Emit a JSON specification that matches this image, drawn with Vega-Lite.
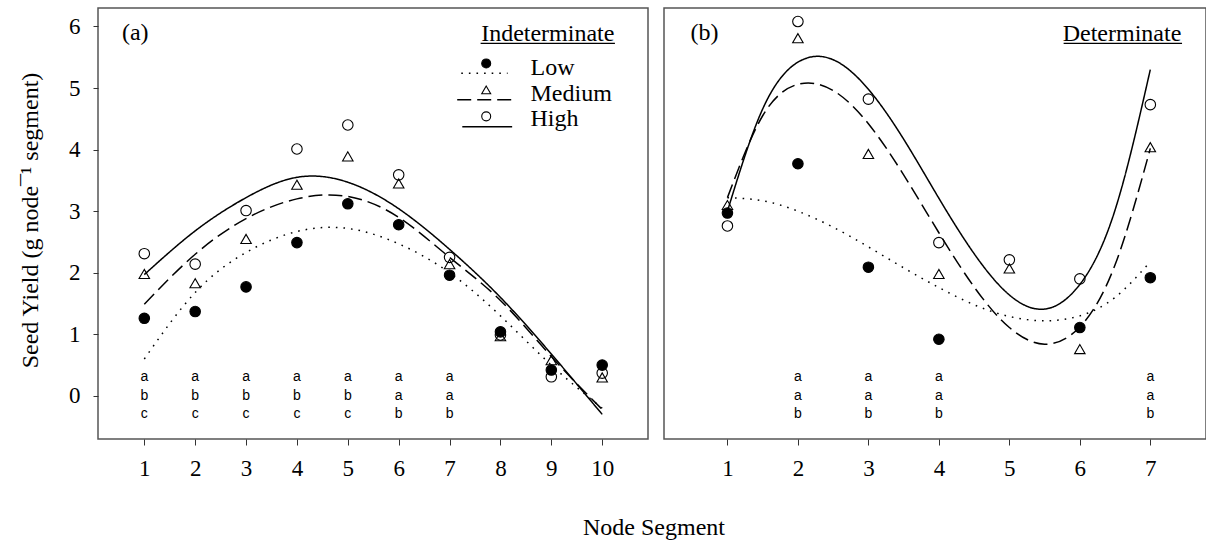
{
  "$schema": "https://vega.github.io/schema/vega-lite/v6.json",
  "background": "white",
  "padding": {"left": 17, "top": 7, "right": 0, "bottom": 4},
  "bounds": "flush",
  "spacing": 16,
  "config": {
    "view": {"stroke": "#555", "strokeWidth": 1.5},
    "font": "Liberation Serif",
    "axis": {"domain": false, "grid": false, "tickColor": "#333", "tickWidth": 1, "labelFont": "Liberation Serif", "labelFontSize": 23, "labelColor": "black", "labelFlush": false, "labelOverlap": false, "titleFont": "Liberation Serif", "titleFontSize": 24, "titleFontWeight": "normal", "titleColor": "black"}
  },
  "datasets": {
    "pts": [
      {"panel": "ind", "seg": 1, "level": "Low", "val": 1.26}, {"panel": "ind", "seg": 1, "level": "Medium", "val": 1.98}, {"panel": "ind", "seg": 1, "level": "High", "val": 2.31},
      {"panel": "ind", "seg": 2, "level": "Low", "val": 1.37}, {"panel": "ind", "seg": 2, "level": "Medium", "val": 1.83}, {"panel": "ind", "seg": 2, "level": "High", "val": 2.14},
      {"panel": "ind", "seg": 3, "level": "Low", "val": 1.77}, {"panel": "ind", "seg": 3, "level": "Medium", "val": 2.55}, {"panel": "ind", "seg": 3, "level": "High", "val": 3.01},
      {"panel": "ind", "seg": 4, "level": "Low", "val": 2.49}, {"panel": "ind", "seg": 4, "level": "Medium", "val": 3.43}, {"panel": "ind", "seg": 4, "level": "High", "val": 4.01},
      {"panel": "ind", "seg": 5, "level": "Low", "val": 3.12}, {"panel": "ind", "seg": 5, "level": "Medium", "val": 3.89}, {"panel": "ind", "seg": 5, "level": "High", "val": 4.40},
      {"panel": "ind", "seg": 6, "level": "Low", "val": 2.78}, {"panel": "ind", "seg": 6, "level": "Medium", "val": 3.45}, {"panel": "ind", "seg": 6, "level": "High", "val": 3.59},
      {"panel": "ind", "seg": 7, "level": "Low", "val": 1.96}, {"panel": "ind", "seg": 7, "level": "Medium", "val": 2.14}, {"panel": "ind", "seg": 7, "level": "High", "val": 2.25},
      {"panel": "ind", "seg": 8, "level": "Low", "val": 1.04}, {"panel": "ind", "seg": 8, "level": "Medium", "val": 0.97}, {"panel": "ind", "seg": 8, "level": "High", "val": 0.99},
      {"panel": "ind", "seg": 9, "level": "Low", "val": 0.42}, {"panel": "ind", "seg": 9, "level": "Medium", "val": 0.58}, {"panel": "ind", "seg": 9, "level": "High", "val": 0.31},
      {"panel": "ind", "seg": 10, "level": "Low", "val": 0.50}, {"panel": "ind", "seg": 10, "level": "Medium", "val": 0.30}, {"panel": "ind", "seg": 10, "level": "High", "val": 0.37},
      {"panel": "det", "seg": 1, "level": "Low", "val": 2.97}, {"panel": "det", "seg": 1, "level": "Medium", "val": 3.10}, {"panel": "det", "seg": 1, "level": "High", "val": 2.76},
      {"panel": "det", "seg": 2, "level": "Low", "val": 3.77}, {"panel": "det", "seg": 2, "level": "Medium", "val": 5.81}, {"panel": "det", "seg": 2, "level": "High", "val": 6.08},
      {"panel": "det", "seg": 3, "level": "Low", "val": 2.09}, {"panel": "det", "seg": 3, "level": "Medium", "val": 3.93}, {"panel": "det", "seg": 3, "level": "High", "val": 4.82},
      {"panel": "det", "seg": 4, "level": "Low", "val": 0.92}, {"panel": "det", "seg": 4, "level": "Medium", "val": 1.98}, {"panel": "det", "seg": 4, "level": "High", "val": 2.49},
      {"panel": "det", "seg": 5, "level": "Medium", "val": 2.07}, {"panel": "det", "seg": 5, "level": "High", "val": 2.21},
      {"panel": "det", "seg": 6, "level": "Low", "val": 1.11}, {"panel": "det", "seg": 6, "level": "Medium", "val": 0.76}, {"panel": "det", "seg": 6, "level": "High", "val": 1.90},
      {"panel": "det", "seg": 7, "level": "Low", "val": 1.92}, {"panel": "det", "seg": 7, "level": "Medium", "val": 4.04}, {"panel": "det", "seg": 7, "level": "High", "val": 4.73}
    ],
    "fits": [
      {"panel": "ind", "level": "Low", "seg": 1, "val": 0.6}, {"panel": "ind", "level": "Low", "seg": 2, "val": 1.68}, {"panel": "ind", "level": "Low", "seg": 3, "val": 2.33}, {"panel": "ind", "level": "Low", "seg": 4, "val": 2.67}, {"panel": "ind", "level": "Low", "seg": 5, "val": 2.72}, {"panel": "ind", "level": "Low", "seg": 6, "val": 2.47}, {"panel": "ind", "level": "Low", "seg": 7, "val": 2.0}, {"panel": "ind", "level": "Low", "seg": 8, "val": 1.3}, {"panel": "ind", "level": "Low", "seg": 9, "val": 0.5}, {"panel": "ind", "level": "Low", "seg": 10, "val": -0.2},
      {"panel": "ind", "level": "Medium", "seg": 1, "val": 1.49}, {"panel": "ind", "level": "Medium", "seg": 2, "val": 2.3}, {"panel": "ind", "level": "Medium", "seg": 3, "val": 2.88}, {"panel": "ind", "level": "Medium", "seg": 4, "val": 3.2}, {"panel": "ind", "level": "Medium", "seg": 5, "val": 3.24}, {"panel": "ind", "level": "Medium", "seg": 6, "val": 2.9}, {"panel": "ind", "level": "Medium", "seg": 7, "val": 2.25}, {"panel": "ind", "level": "Medium", "seg": 8, "val": 1.55}, {"panel": "ind", "level": "Medium", "seg": 9, "val": 0.64}, {"panel": "ind", "level": "Medium", "seg": 10, "val": -0.22},
      {"panel": "ind", "level": "High", "seg": 1, "val": 1.97}, {"panel": "ind", "level": "High", "seg": 2, "val": 2.68}, {"panel": "ind", "level": "High", "seg": 3, "val": 3.22}, {"panel": "ind", "level": "High", "seg": 4, "val": 3.55}, {"panel": "ind", "level": "High", "seg": 5, "val": 3.47}, {"panel": "ind", "level": "High", "seg": 6, "val": 3.04}, {"panel": "ind", "level": "High", "seg": 7, "val": 2.38}, {"panel": "ind", "level": "High", "seg": 8, "val": 1.6}, {"panel": "ind", "level": "High", "seg": 9, "val": 0.68}, {"panel": "ind", "level": "High", "seg": 10, "val": -0.3},
      {"panel": "det", "level": "Low", "seg": 1, "val": 3.22}, {"panel": "det", "level": "Low", "seg": 1.5, "val": 3.17}, {"panel": "det", "level": "Low", "seg": 2, "val": 3.0}, {"panel": "det", "level": "Low", "seg": 2.5, "val": 2.74}, {"panel": "det", "level": "Low", "seg": 3, "val": 2.42}, {"panel": "det", "level": "Low", "seg": 3.5, "val": 2.08}, {"panel": "det", "level": "Low", "seg": 4, "val": 1.76}, {"panel": "det", "level": "Low", "seg": 4.5, "val": 1.48}, {"panel": "det", "level": "Low", "seg": 5, "val": 1.29}, {"panel": "det", "level": "Low", "seg": 5.5, "val": 1.22}, {"panel": "det", "level": "Low", "seg": 6, "val": 1.3}, {"panel": "det", "level": "Low", "seg": 6.5, "val": 1.6}, {"panel": "det", "level": "Low", "seg": 7, "val": 2.18},
      {"panel": "det", "level": "Medium", "seg": 1, "val": 3.22}, {"panel": "det", "level": "Medium", "seg": 1.5, "val": 4.55}, {"panel": "det", "level": "Medium", "seg": 2, "val": 5.06}, {"panel": "det", "level": "Medium", "seg": 2.5, "val": 4.96}, {"panel": "det", "level": "Medium", "seg": 3, "val": 4.42}, {"panel": "det", "level": "Medium", "seg": 3.5, "val": 3.59}, {"panel": "det", "level": "Medium", "seg": 4, "val": 2.65}, {"panel": "det", "level": "Medium", "seg": 4.5, "val": 1.77}, {"panel": "det", "level": "Medium", "seg": 5, "val": 1.11}, {"panel": "det", "level": "Medium", "seg": 5.5, "val": 0.84}, {"panel": "det", "level": "Medium", "seg": 6, "val": 1.12}, {"panel": "det", "level": "Medium", "seg": 6.5, "val": 2.13}, {"panel": "det", "level": "Medium", "seg": 7, "val": 4.02},
      {"panel": "det", "level": "High", "seg": 1, "val": 3.0}, {"panel": "det", "level": "High", "seg": 1.5, "val": 4.66}, {"panel": "det", "level": "High", "seg": 2, "val": 5.42}, {"panel": "det", "level": "High", "seg": 2.5, "val": 5.46}, {"panel": "det", "level": "High", "seg": 3, "val": 4.98}, {"panel": "det", "level": "High", "seg": 3.5, "val": 4.17}, {"panel": "det", "level": "High", "seg": 4, "val": 3.21}, {"panel": "det", "level": "High", "seg": 4.5, "val": 2.31}, {"panel": "det", "level": "High", "seg": 5, "val": 1.64}, {"panel": "det", "level": "High", "seg": 5.5, "val": 1.41}, {"panel": "det", "level": "High", "seg": 6, "val": 1.81}, {"panel": "det", "level": "High", "seg": 6.5, "val": 3.02}, {"panel": "det", "level": "High", "seg": 7, "val": 5.3}
    ],
    "letters": [
      {"panel": "ind", "seg": 1, "val": 0.3, "letter": "a"}, {"panel": "ind", "seg": 1, "val": 0.0, "letter": "b"}, {"panel": "ind", "seg": 1, "val": -0.3, "letter": "c"},
      {"panel": "ind", "seg": 2, "val": 0.3, "letter": "a"}, {"panel": "ind", "seg": 2, "val": 0.0, "letter": "b"}, {"panel": "ind", "seg": 2, "val": -0.3, "letter": "c"},
      {"panel": "ind", "seg": 3, "val": 0.3, "letter": "a"}, {"panel": "ind", "seg": 3, "val": 0.0, "letter": "b"}, {"panel": "ind", "seg": 3, "val": -0.3, "letter": "c"},
      {"panel": "ind", "seg": 4, "val": 0.3, "letter": "a"}, {"panel": "ind", "seg": 4, "val": 0.0, "letter": "b"}, {"panel": "ind", "seg": 4, "val": -0.3, "letter": "c"},
      {"panel": "ind", "seg": 5, "val": 0.3, "letter": "a"}, {"panel": "ind", "seg": 5, "val": 0.0, "letter": "b"}, {"panel": "ind", "seg": 5, "val": -0.3, "letter": "c"},
      {"panel": "ind", "seg": 6, "val": 0.3, "letter": "a"}, {"panel": "ind", "seg": 6, "val": 0.0, "letter": "a"}, {"panel": "ind", "seg": 6, "val": -0.3, "letter": "b"},
      {"panel": "ind", "seg": 7, "val": 0.3, "letter": "a"}, {"panel": "ind", "seg": 7, "val": 0.0, "letter": "a"}, {"panel": "ind", "seg": 7, "val": -0.3, "letter": "b"},
      {"panel": "det", "seg": 2, "val": 0.3, "letter": "a"}, {"panel": "det", "seg": 2, "val": 0.0, "letter": "a"}, {"panel": "det", "seg": 2, "val": -0.3, "letter": "b"},
      {"panel": "det", "seg": 3, "val": 0.3, "letter": "a"}, {"panel": "det", "seg": 3, "val": 0.0, "letter": "a"}, {"panel": "det", "seg": 3, "val": -0.3, "letter": "b"},
      {"panel": "det", "seg": 4, "val": 0.3, "letter": "a"}, {"panel": "det", "seg": 4, "val": 0.0, "letter": "a"}, {"panel": "det", "seg": 4, "val": -0.3, "letter": "b"},
      {"panel": "det", "seg": 7, "val": 0.3, "letter": "a"}, {"panel": "det", "seg": 7, "val": 0.0, "letter": "a"}, {"panel": "det", "seg": 7, "val": -0.3, "letter": "b"}
    ],
    "labels": [
      {"panel": "ind", "seg": 0.56, "val": 5.78, "text": "(a)"},
      {"panel": "det", "seg": 0.475, "val": 5.78, "text": "(b)"}
    ],
    "heads": [
      {"panel": "ind", "seg": 10.24, "val": 5.76, "text": "Indeterminate"},
      {"panel": "det", "seg": 7.44, "val": 5.76, "text": "Determinate"}
    ],
    "underlines": [
      {"panel": "ind", "seg": 7.61, "seg2": 10.25, "val": 5.725},
      {"panel": "det", "seg": 5.77, "seg2": 7.45, "val": 5.725}
    ],
    "keylines": [
      {"level": "Low", "seg": 7.23, "seg2": 8.14, "val": 5.24},
      {"level": "Medium", "seg": 7.15, "seg2": 8.26, "val": 4.81},
      {"level": "High", "seg": 7.25, "seg2": 8.23, "val": 4.37}
    ],
    "keysyms": [
      {"level": "Low", "seg": 7.72, "val": 5.40},
      {"level": "Medium", "seg": 7.72, "val": 4.97},
      {"level": "High", "seg": 7.72, "val": 4.54}
    ],
    "keytext": [
      {"seg": 8.59, "val": 5.33, "text": "Low"},
      {"seg": 8.59, "val": 4.91, "text": "Medium"},
      {"seg": 8.59, "val": 4.49, "text": "High"}
    ]
  },
  "hconcat": [
    {
      "width": 550,
      "height": 431,
      "encoding": {
        "x": {"field": "seg", "type": "quantitative", "scale": {"domain": [0.09, 10.9], "nice": false, "zero": false},
          "axis": {"values": [1, 2, 3, 4, 5, 6, 7, 8, 9, 10], "tickSize": 6, "labelPadding": 30, "labelBaseline": "alphabetic", "title": "Node Segment", "titleX": 555.5, "titleY": 95, "titleBaseline": "alphabetic", "titleAlign": "center", "titleAnchor": null}},
        "y": {"field": "val", "type": "quantitative", "scale": {"domain": [-0.7, 6.3], "nice": false, "zero": false},
          "axis": {"values": [0, 1, 2, 3, 4, 5, 6], "tickSize": 5, "labelPadding": 13, "title": "Seed Yield (g node¯¹ segment)", "titleX": -61, "titleY": 212, "titleAngle": -90, "titleBaseline": "alphabetic", "titleAlign": "center", "titleAnchor": null}}
      },
      "layer": [
        {
          "data": {"name": "fits"},
          "transform": [{"filter": "datum.panel === 'ind'"}],
          "mark": {"type": "line", "interpolate": "natural", "strokeWidth": 1.5, "color": "black"},
          "encoding": {
            "strokeDash": {"field": "level", "type": "nominal", "scale": {"domain": ["Low", "Medium", "High"], "range": [[1.6, 6], [14, 6], [1, 0]]}, "legend": null}
          }
        },
        {
          "data": {"name": "pts"},
          "transform": [{"filter": "datum.panel === 'ind'"}],
          "mark": {"type": "point", "size": 110, "stroke": "black", "strokeWidth": 1.1, "opacity": 1},
          "encoding": {
            "shape": {"field": "level", "type": "nominal", "scale": {"domain": ["Low", "Medium", "High"], "range": ["circle", "triangle-up", "circle"]}, "legend": null},
            "fill": {"field": "level", "type": "nominal", "scale": {"domain": ["Low", "Medium", "High"], "range": ["black", "transparent", "transparent"]}, "legend": null}
          }
        },
        {
          "data": {"name": "letters"},
          "transform": [{"filter": "datum.panel === 'ind'"}],
          "mark": {"type": "text", "font": "Liberation Sans", "fontSize": 14, "baseline": "middle", "align": "center", "color": "black"},
          "encoding": {"text": {"field": "letter"}}
        },
        {
          "data": {"name": "labels"},
          "transform": [{"filter": "datum.panel === 'ind'"}],
          "mark": {"type": "text", "fontSize": 24, "baseline": "alphabetic", "align": "left", "color": "black"},
          "encoding": {"text": {"field": "text"}}
        },
        {
          "data": {"name": "heads"},
          "transform": [{"filter": "datum.panel === 'ind'"}],
          "mark": {"type": "text", "fontSize": 24, "baseline": "alphabetic", "align": "right", "color": "black"},
          "encoding": {"text": {"field": "text"}}
        },
        {
          "data": {"name": "underlines"},
          "transform": [{"filter": "datum.panel === 'ind'"}],
          "mark": {"type": "rule", "strokeWidth": 1.3, "color": "black"},
          "encoding": {"x2": {"field": "seg2"}}
        },
        {
          "data": {"name": "keylines"},
          "mark": {"type": "rule", "strokeWidth": 1.5, "color": "black"},
          "encoding": {
            "x2": {"field": "seg2"},
            "strokeDash": {"field": "level", "type": "nominal", "scale": {"domain": ["Low", "Medium", "High"], "range": [[1.6, 6], [14, 6], [1, 0]]}, "legend": null}
          }
        },
        {
          "data": {"name": "keysyms"},
          "mark": {"type": "point", "size": 80, "stroke": "black", "strokeWidth": 1.1, "opacity": 1},
          "encoding": {
            "shape": {"field": "level", "type": "nominal", "scale": {"domain": ["Low", "Medium", "High"], "range": ["circle", "triangle-up", "circle"]}, "legend": null},
            "fill": {"field": "level", "type": "nominal", "scale": {"domain": ["Low", "Medium", "High"], "range": ["black", "transparent", "transparent"]}, "legend": null}
          }
        },
        {
          "data": {"name": "keytext"},
          "mark": {"type": "text", "fontSize": 24, "baseline": "middle", "align": "left", "color": "black"},
          "encoding": {"text": {"field": "text"}}
        }
      ]
    },
    {
      "width": 542,
      "height": 431,
      "encoding": {
        "x": {"field": "seg", "type": "quantitative", "scale": {"domain": [0.1, 7.79], "nice": false, "zero": false},
          "axis": {"values": [1, 2, 3, 4, 5, 6, 7], "tickSize": 6, "labelPadding": 30, "labelBaseline": "alphabetic", "title": null}},
        "y": {"field": "val", "type": "quantitative", "scale": {"domain": [-0.7, 6.3], "nice": false, "zero": false}, "axis": null}
      },
      "layer": [
        {
          "data": {"name": "fits"},
          "transform": [{"filter": "datum.panel === 'det'"}],
          "mark": {"type": "line", "interpolate": "natural", "strokeWidth": 1.5, "color": "black"},
          "encoding": {
            "strokeDash": {"field": "level", "type": "nominal", "scale": {"domain": ["Low", "Medium", "High"], "range": [[1.6, 6], [14, 6], [1, 0]]}, "legend": null}
          }
        },
        {
          "data": {"name": "pts"},
          "transform": [{"filter": "datum.panel === 'det'"}],
          "mark": {"type": "point", "size": 110, "stroke": "black", "strokeWidth": 1.1, "opacity": 1},
          "encoding": {
            "shape": {"field": "level", "type": "nominal", "scale": {"domain": ["Low", "Medium", "High"], "range": ["circle", "triangle-up", "circle"]}, "legend": null},
            "fill": {"field": "level", "type": "nominal", "scale": {"domain": ["Low", "Medium", "High"], "range": ["black", "transparent", "transparent"]}, "legend": null}
          }
        },
        {
          "data": {"name": "letters"},
          "transform": [{"filter": "datum.panel === 'det'"}],
          "mark": {"type": "text", "font": "Liberation Sans", "fontSize": 14, "baseline": "middle", "align": "center", "color": "black"},
          "encoding": {"text": {"field": "letter"}}
        },
        {
          "data": {"name": "labels"},
          "transform": [{"filter": "datum.panel === 'det'"}],
          "mark": {"type": "text", "fontSize": 24, "baseline": "alphabetic", "align": "left", "color": "black"},
          "encoding": {"text": {"field": "text"}}
        },
        {
          "data": {"name": "heads"},
          "transform": [{"filter": "datum.panel === 'det'"}],
          "mark": {"type": "text", "fontSize": 24, "baseline": "alphabetic", "align": "right", "color": "black"},
          "encoding": {"text": {"field": "text"}}
        },
        {
          "data": {"name": "underlines"},
          "transform": [{"filter": "datum.panel === 'det'"}],
          "mark": {"type": "rule", "strokeWidth": 1.3, "color": "black"},
          "encoding": {"x2": {"field": "seg2"}}
        }
      ]
    }
  ]
}
